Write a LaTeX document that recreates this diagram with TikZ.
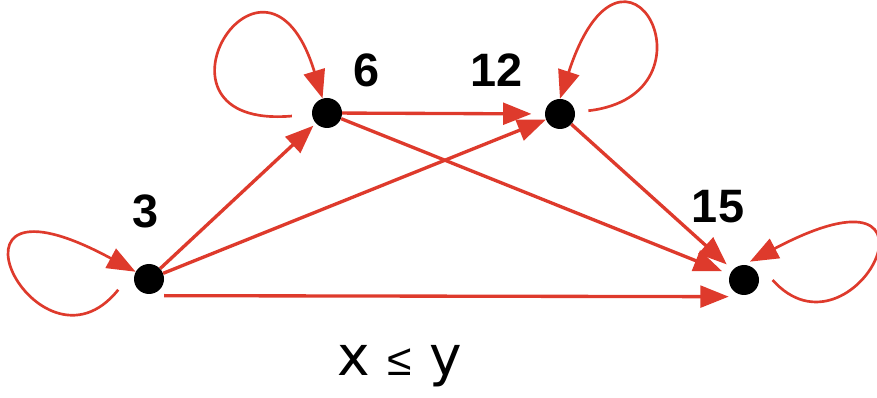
\documentclass[tikz,border=0pt]{standalone}
\usepackage{fontspec}
\setmainfont{Liberation Sans}
\newfontfamily\relfont{DejaVu Sans}
\usetikzlibrary{arrows.meta,positioning}
\definecolor{edgered}{RGB}{222,58,44}

\begin{document}
\begin{tikzpicture}[
  x=0.3mm, y=-0.3mm,
  vertex/.style={circle, fill=black, minimum size=9mm, inner sep=0pt},
  num/.style   ={font=\fontsize{40}{40}\selectfont\bfseries, inner sep=0pt},
  rel/.style   ={font=\relfont\fontsize{47}{47}\selectfont, inner sep=0pt},
  arr/.style   ={draw=edgered, line width=1mm,
                 -{Triangle[length=8.5mm,width=6.5mm]}, color=edgered},
  selfloop/.style={arr, line width=0.8mm}
]
  \useasboundingbox (0,0) rectangle (877,398);

  \node[vertex] (n3)  at (149,279) {};
  \node[vertex] (n6)  at (327,113) {};
  \node[vertex] (n12) at (560,114) {};
  \node[vertex] (n15) at (744,280) {};

  \node[num, above=10.6mm of n3, xshift=-0.9mm]   (l3)  {3};
  \node[num, above right=4.6mm and 4.6mm of n6]   (l6)  {6};
  \node[num, above left=5mm and 7.9mm of n12]     (l12) {12};
  \node[num, above=12.4mm of n15, xshift=-7.8mm]  (l15) {15};

  \node[rel] (xy) at (400,366) {x {\setmainfont{Liberation Sans}\fontsize{38}{38}\selectfont ≤} y};

  % edges
  \draw[arr, shorten >=1mm] (n3) -- (n6);
  \draw[arr] (n3) -- (n12);
  \draw[arr, shorten >=4mm] (n6) -- (n12);
  \draw[arr, shorten >=2.5mm] (n6) -- (n15);
  \draw[arr, shorten >=2.4mm] (n12) -- (n15);
  \draw[arr] ([yshift=-5mm]n3.east) -- ([yshift=-5mm]n15.west);

  % self loops
  \draw[selfloop] ([xshift=-6mm]n3.south west) .. controls (38,390) and (-80,155) .. (n3);
  \draw[selfloop, shorten <=6mm] (n6) .. controls (130,130) and (265,-90) .. (n6);
  \draw[selfloop, shorten <=4mm] (n12) .. controls (725,95) and (625,-100) .. (n12.north);
  \draw[selfloop, shorten >=2mm] ([xshift=4mm]n15.east) .. controls (853,370) and (965,148) .. (n15.north);
\end{tikzpicture}
\end{document}
